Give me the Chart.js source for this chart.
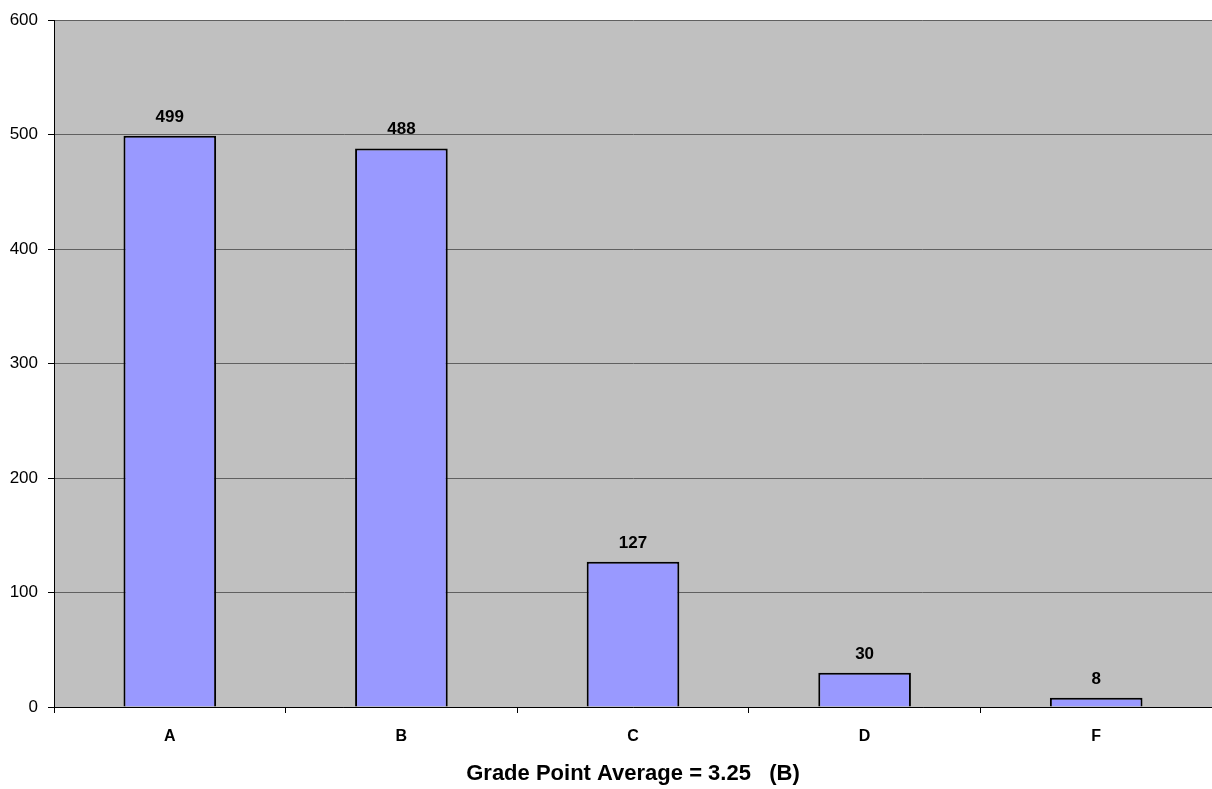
<!DOCTYPE html>
<html>
<head>
<meta charset="utf-8">
<script src="https://cdn.jsdelivr.net/npm/chart.js@4/dist/chart.umd.min.js"></script>
<style>
  html, body { margin: 0; padding: 0; background: #ffffff; }
  #wrap { width: 1212px; height: 789px; }
</style>
</head>
<body>
<div id="wrap"><canvas id="c" width="1212" height="789"></canvas></div>
<script>
// Grade distribution
const grades = ['A', 'B', 'C', 'D', 'F'];
const counts = [499, 488, 127, 30, 8];
const yTicks = [0, 100, 200, 300, 400, 500, 600];
const axisTitle = 'Grade Point Average = 3.25   (B)';

const FONT = "'Liberation Sans', Arial, sans-serif";

// Grey plot background behind the bars
const plotBackground = {
  id: 'plotBackground',
  beforeDraw(chart) {
    const { ctx, chartArea: a } = chart;
    ctx.save();
    ctx.fillStyle = '#c0c0c0';
    ctx.fillRect(a.left, a.top, a.right - a.left, a.bottom - a.top);
    ctx.restore();
  }
};

// Value labels above each bar
const valueLabels = {
  id: 'valueLabels',
  afterDatasetsDraw(chart) {
    const { ctx } = chart;
    const meta = chart.getDatasetMeta(0);
    ctx.save();
    ctx.font = 'bold 17px ' + FONT;
    ctx.fillStyle = '#000';
    ctx.textAlign = 'center';
    ctx.textBaseline = 'alphabetic';
    meta.data.forEach((bar, i) => {
      ctx.fillText(String(counts[i]), bar.x, bar.y - 14);
    });
    ctx.restore();
  }
};

new Chart(document.getElementById('c'), {
  type: 'bar',
  data: {
    labels: grades,
    datasets: [{
      data: counts,
      backgroundColor: '#9999ff',
      borderColor: '#000000',
      borderWidth: 2,
      borderSkipped: 'bottom',
      barPercentage: 0.4,
      categoryPercentage: 1.0
    }]
  },
  options: {
    responsive: false,
    animation: false,
    devicePixelRatio: 1,
    layout: { padding: { top: 19, right: 0, left: 0, bottom: 0 } },
    plugins: {
      legend: { display: false },
      tooltip: { enabled: false }
    },
    scales: {
      x: {
        grid: {
          offset: true,
          drawOnChartArea: false,
          drawTicks: true,
          tickLength: 6,
          tickColor: '#000'
        },
        border: { color: '#000', width: 1 },
        ticks: {
          color: '#000',
          font: { family: FONT, size: 16, weight: 'bold' },
          padding: 14
        },
        title: {
          display: true,
          text: axisTitle,
          color: '#000',
          font: { family: FONT, size: 22, weight: 'bold' },
          padding: { top: 0, bottom: 2 }
        },
        afterFit(scale) { scale.height = 82; }
      },
      y: {
        min: 0,
        max: 600,
        afterBuildTicks(scale) { scale.ticks = yTicks.map(v => ({ value: v })); },
        grid: {
          color: '#606060',
          lineWidth: 1,
          drawTicks: true,
          tickLength: 6,
          tickColor: '#000'
        },
        border: { color: '#000', width: 1 },
        ticks: {
          color: '#000',
          font: { family: FONT, size: 17 },
          padding: 10
        },
        afterFit(scale) { scale.width = 54; }
      }
    }
  },
  plugins: [plotBackground, valueLabels]
});
</script>
</body>
</html>
